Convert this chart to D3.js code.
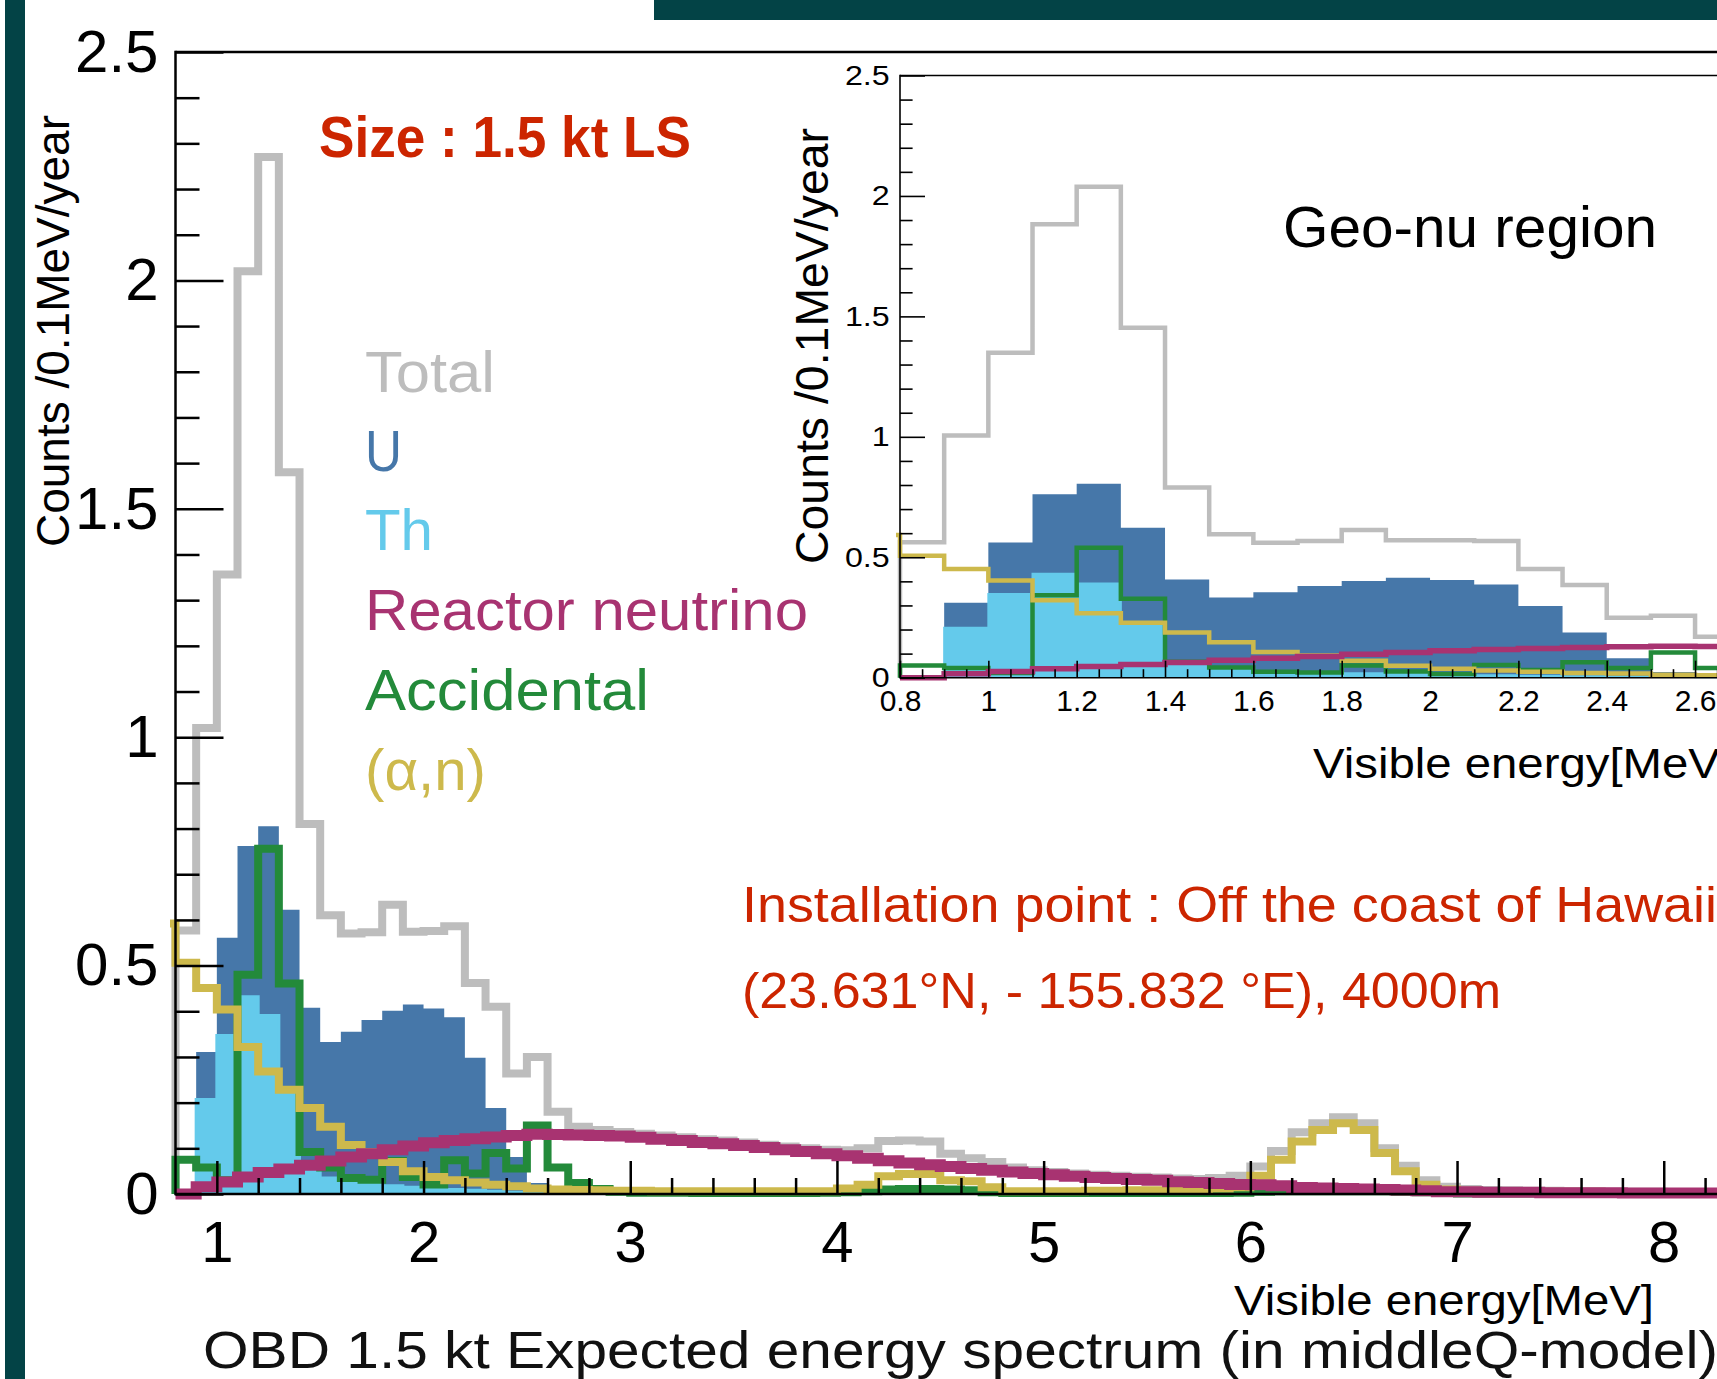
<!DOCTYPE html>
<html>
<head>
<meta charset="utf-8">
<script src="https://cdn.jsdelivr.net/npm/d3@7"></script>
<style>
  body { margin: 0; background: #fff; }
  svg { display: block; font-family: "Liberation Sans", Arial, Helvetica, sans-serif; }
</style>
</head>
<body>
<script>
// every histogram uses 0.1 MeV bins, starting at the energy in its *Start value
const binWidth = 0.1;

const totalStart = 0.8;
const totalMain = [
  0.577, 1.020, 1.356, 2.020, 2.270, 1.580, 0.810, 0.610, 0.570, 0.573,
  0.633, 0.574, 0.576, 0.586, 0.462, 0.410, 0.264, 0.300, 0.180, 0.147,
  0.140, 0.136, 0.132, 0.128, 0.124, 0.120, 0.117, 0.113, 0.108, 0.104,
  0.100, 0.097, 0.096, 0.100, 0.116, 0.117, 0.115, 0.088, 0.078, 0.070,
  0.058, 0.052, 0.048, 0.045, 0.042, 0.040, 0.038, 0.036, 0.034, 0.033,
  0.035, 0.040, 0.060, 0.094, 0.135, 0.155, 0.168, 0.155, 0.100, 0.062,
  0.030, 0.016, 0.011, 0.009, 0.008, 0.007, 0.007, 0.006, 0.006, 0.005,
  0.005, 0.005, 0.004, 0.004, 0.004, 0.004
];
const totalInset = [
  0.562, 1.005, 1.349, 1.882, 2.038, 1.453, 0.790, 0.596, 0.560, 0.567,
  0.613, 0.571, 0.571, 0.567, 0.451, 0.385, 0.249, 0.257, 0.170, 0.145,
  0.138, 0.135
];

const geoStart = 0.8;
const uranium = [
  0, 0.311, 0.561, 0.762, 0.805, 0.622, 0.408, 0.333, 0.355, 0.381,
  0.401, 0.415, 0.406, 0.387, 0.298, 0.188, 0.081, 0.024, 0.008, 0.003
];
const thorium = [
  0, 0.207, 0.347, 0.432, 0.391, 0.220, 0.060, 0.035, 0.028, 0.022,
  0.018, 0.015, 0.012, 0.010, 0.008, 0.006, 0.004, 0.003, 0.002, 0.001
];

const reactorStart = 0.8;
const reactor = [
  0.000, 0.016, 0.026, 0.037, 0.047, 0.055, 0.063, 0.072, 0.081, 0.088,
  0.097, 0.105, 0.112, 0.117, 0.121, 0.125, 0.128, 0.131, 0.130, 0.129,
  0.128, 0.127, 0.124, 0.120, 0.117, 0.113, 0.110, 0.106, 0.102, 0.097,
  0.093, 0.088, 0.084, 0.078, 0.073, 0.068, 0.064, 0.060, 0.056, 0.052,
  0.048, 0.045, 0.042, 0.039, 0.036, 0.034, 0.032, 0.030, 0.027, 0.025,
  0.023, 0.021, 0.020, 0.018, 0.014, 0.013, 0.012, 0.011, 0.010, 0.009,
  0.007, 0.005, 0.005, 0.004, 0.004, 0.004, 0.003, 0.003, 0.003, 0.003,
  0.002, 0.002, 0.002, 0.002, 0.002, 0.002
];

const accStart = 0.8;
const accMain = [
  0.075, 0.058, 0.030, 0.480, 0.756, 0.461, 0.092, 0.058, 0.035, 0.031,
  0.072, 0.037, 0.021, 0.074, 0.045, 0.090, 0.056, 0.150, 0.058, 0.024,
  0.011, 0.005, 0.003, 0.003, 0.003, 0.002, 0.002, 0.002, 0.002, 0.002,
  0.002, 0.003, 0.004, 0.006, 0.010, 0.011, 0.011, 0.010, 0.008, 0.004,
  0.002, 0.002, 0.002, 0.002, 0.002, 0.002, 0.002, 0.002, 0.002, 0.002,
  0.002, 0.003, 0.005, 0.006, 0.006, 0.006, 0.006, 0.006, 0.006, 0.005,
  0.004, 0.002, 0.001, 0.001, 0.001, 0.001, 0.001, 0.001, 0.001, 0.001,
  0.001, 0.001, 0.001, 0.001, 0.001, 0.001
];
const accInset = [
  0.051, 0.040, 0.020, 0.342, 0.540, 0.328, 0.066, 0.042, 0.025, 0.022,
  0.051, 0.026, 0.015, 0.053, 0.032, 0.064, 0.040, 0.105, 0.040, 0.017,
  0.008, 0.004
];

const alphaStart = 0.7;
const alphaN = [
  0.592, 0.506, 0.451, 0.404, 0.322, 0.268, 0.228, 0.188, 0.147, 0.107,
  0.092, 0.070, 0.050, 0.037, 0.030, 0.025, 0.020, 0.017, 0.012, 0.010,
  0.009, 0.008, 0.007, 0.007, 0.006, 0.006, 0.006, 0.006, 0.006, 0.006,
  0.006, 0.006, 0.006, 0.012, 0.020, 0.039, 0.044, 0.044, 0.030, 0.028,
  0.015, 0.006, 0.006, 0.006, 0.006, 0.007, 0.007, 0.008, 0.008, 0.009,
  0.010, 0.012, 0.015, 0.040, 0.075, 0.115, 0.140, 0.155, 0.140, 0.090,
  0.050, 0.020, 0.010, 0.007, 0.006, 0.006, 0.005, 0.005, 0.005, 0.005,
  0.004, 0.004, 0.004, 0.004, 0.004, 0.004, 0.004
];

const legendLabels = ["Total", "U", "Th", "Reactor neutrino", "Accidental", "(α,n)"];
const mainYTicks = [0, 0.5, 1, 1.5, 2, 2.5];
const mainXTicks = [1, 2, 3, 4, 5, 6, 7, 8, 9];
const insetYTicks = [0, 0.5, 1, 1.5, 2, 2.5];
const insetXTicks = [0.8, 1, 1.2, 1.4, 1.6, 1.8, 2, 2.2, 2.4, 2.6, 2.8];

const colors = {
  total: "#bdbdbd",
  u: "#4677a9",
  th: "#64caeb",
  reactor: "#a83371",
  acc: "#238a3a",
  alpha: "#cdb94c",
  red: "#cc2500",
  frame: "#034346"
};
const legendColors = [colors.total, colors.u, colors.th, colors.reactor, colors.acc, colors.alpha];

let width = 1717,
    height = 1379;

let svg = d3.select("body")
    .append("svg")
    .attr("width", width)
    .attr("height", height);

svg.append("rect").attr("width", width).attr("height", height).attr("fill", "#fff");

// slide frame
svg.append("rect").attr("x", 5).attr("y", 0).attr("width", 20).attr("height", height).attr("fill", colors.frame);
svg.append("rect").attr("x", 654).attr("y", 0).attr("width", width - 654).attr("height", 20).attr("fill", colors.frame);

let xMain = d3.scaleLinear().domain([0.8, 10]).range([175.5, 175.5 + 9.2 * 206.7]);
let yMain = d3.scaleLinear().domain([0, 2.5]).range([1194, 52]);

let xIn = d3.scaleLinear().domain([0.8, 3]).range([900, 900 + 2.2 * 441.7]);
let yIn = d3.scaleLinear().domain([0, 2.5]).range([677.7, 75.5]);

function steps(vals, start, x, y) {
  let pts = [[start, 0]];
  vals.forEach((v, i) => {
    pts.push([start + i * binWidth, v], [start + (i + 1) * binWidth, v]);
  });
  pts.push([start + vals.length * binWidth, 0]);
  return d3.line().x(d => x(d[0])).y(d => y(d[1]))(pts);
}

let defs = svg.append("defs");
defs.append("clipPath").attr("id", "clipMain")
  .append("rect").attr("x", 170).attr("y", 40).attr("width", width - 170).attr("height", 1175);
defs.append("clipPath").attr("id", "clipIn")
  .append("rect").attr("x", 896).attr("y", 70).attr("width", width - 896).attr("height", 620);

function drawHists(clip, x, y, total, acc, w) {
  let g = svg.append("g").attr("clip-path", "url(#" + clip + ")")
      .attr("stroke-linejoin", "miter");

  g.append("path").attr("d", steps(total, totalStart, x, y))
    .attr("fill", "none").attr("stroke", colors.total).attr("stroke-width", w.line);
  g.append("path").attr("d", steps(uranium, geoStart, x, y))
    .attr("fill", colors.u);
  g.append("path").attr("d", steps(thorium, geoStart, x, y))
    .attr("fill", colors.th).attr("stroke", colors.th).attr("stroke-width", w.th);
  g.append("path").attr("d", steps(acc, accStart, x, y))
    .attr("fill", "none").attr("stroke", colors.acc).attr("stroke-width", w.line);
  g.append("path").attr("d", steps(alphaN, alphaStart, x, y))
    .attr("fill", "none").attr("stroke", colors.alpha).attr("stroke-width", w.line);
  g.append("path").attr("d", steps(reactor, reactorStart, x, y))
    .attr("fill", "none").attr("stroke", colors.reactor).attr("stroke-width", w.reactor);
}

drawHists("clipMain", xMain, yMain, totalMain, accMain, {line: 8, th: 3, reactor: 11});

// ---- main axes
let fmt = d => String(+d.toFixed(1));

function styleAxis(g, size) {
  g.select(".domain").remove();
  g.selectAll("line").attr("stroke", "#000");
  g.selectAll("text").attr("fill", "#000")
    .attr("font-size", size)
    .attr("font-family", "Liberation Sans, Arial, Helvetica, sans-serif");
}

svg.append("g")
    .attr("transform", "translate(0," + yMain(0) + ")")
    .call(d3.axisBottom(xMain).tickValues(d3.range(5, 46).map(i => i * 0.2).filter(v => Math.abs(v - Math.round(v)) > 0.01))
      .tickSize(-16).tickFormat(""))
    .call(g => styleAxis(g, 10))
    .selectAll("line").attr("stroke-width", 2.5);

svg.append("g")
    .attr("transform", "translate(0," + yMain(0) + ")")
    .call(d3.axisBottom(xMain).tickValues(mainXTicks).tickSize(-33).tickPadding(27).tickFormat(fmt))
    .call(g => styleAxis(g, 58))
    .selectAll("line").attr("stroke-width", 2.5);

svg.append("g")
    .attr("transform", "translate(" + xMain(0.8) + ",0)")
    .call(d3.axisLeft(yMain).tickValues(d3.range(1, 25).map(i => i * 0.1).filter(v => Math.abs(v * 2 - Math.round(v * 2)) > 0.01))
      .tickSize(-24).tickFormat(""))
    .call(g => styleAxis(g, 10))
    .selectAll("line").attr("stroke-width", 2.5);

svg.append("g")
    .attr("transform", "translate(" + xMain(0.8) + ",0)")
    .call(d3.axisLeft(yMain).tickValues(mainYTicks).tickSize(-48).tickPadding(17).tickFormat(fmt))
    .call(g => styleAxis(g, 60))
    .selectAll("line").attr("stroke-width", 2.5);

// frame lines
svg.append("line").attr("x1", xMain(0.8)).attr("x2", width).attr("y1", yMain(0)).attr("y2", yMain(0))
  .attr("stroke", "#000").attr("stroke-width", 2.5);
svg.append("line").attr("x1", xMain(0.8)).attr("x2", width).attr("y1", yMain(2.5)).attr("y2", yMain(2.5))
  .attr("stroke", "#000").attr("stroke-width", 2.5);
svg.append("line").attr("x1", xMain(0.8)).attr("x2", xMain(0.8)).attr("y1", yMain(2.5) - 1.2).attr("y2", yMain(0) + 1.2)
  .attr("stroke", "#000").attr("stroke-width", 2.5);

// ---- inset
drawHists("clipIn", xIn, yIn, totalInset, accInset, {line: 4.5, th: 2, reactor: 5.5});

svg.append("g")
    .attr("transform", "translate(0," + yIn(0) + ")")
    .call(d3.axisBottom(xIn).tickValues(d3.range(17, 60).map(i => i * 0.05).filter(v => Math.abs(v * 5 - Math.round(v * 5)) > 0.01))
      .tickSize(-8.5).tickFormat(""))
    .call(g => styleAxis(g, 10))
    .selectAll("line").attr("stroke-width", 1.6);

svg.append("g")
    .attr("transform", "translate(0," + yIn(0) + ")")
    .call(d3.axisBottom(xIn).tickValues(insetXTicks).tickSize(-17).tickPadding(12).tickFormat(fmt))
    .call(g => styleAxis(g, 30))
    .selectAll("line").attr("stroke-width", 1.6);

svg.append("g")
    .attr("transform", "translate(" + xIn(0.8) + ",0)")
    .call(d3.axisLeft(yIn).tickValues(d3.range(1, 25).map(i => i * 0.1).filter(v => Math.abs(v * 2 - Math.round(v * 2)) > 0.01))
      .tickSize(-12.6).tickFormat(""))
    .call(g => styleAxis(g, 10))
    .selectAll("line").attr("stroke-width", 1.6);

svg.append("g")
    .attr("transform", "translate(" + xIn(0.8) + ",0)")
    .call(d3.axisLeft(yIn).tickValues(insetYTicks).tickSize(-25).tickPadding(9).tickFormat(fmt))
    .call(g => styleAxis(g, 28))
    .call(g => g.selectAll("text").attr("transform", "scale(1.15,1)"))
    .selectAll("line").attr("stroke-width", 1.6);

svg.append("line").attr("x1", xIn(0.8)).attr("x2", width).attr("y1", yIn(0)).attr("y2", yIn(0))
  .attr("stroke", "#000").attr("stroke-width", 1.6);
svg.append("line").attr("x1", xIn(0.8)).attr("x2", width).attr("y1", yIn(2.5)).attr("y2", yIn(2.5))
  .attr("stroke", "#000").attr("stroke-width", 1.6);
svg.append("line").attr("x1", xIn(0.8)).attr("x2", xIn(0.8)).attr("y1", yIn(2.5) - 0.8).attr("y2", yIn(0) + 0.8)
  .attr("stroke", "#000").attr("stroke-width", 1.6);

// ---- texts
function label(x, y, str, size, fill, len, weight) {
  let t = svg.append("text")
    .attr("x", x).attr("y", y)
    .attr("font-size", size)
    .attr("fill", fill)
    .text(str);
  if (weight) t.attr("font-weight", weight);
  if (len) t.attr("textLength", len).attr("lengthAdjust", "spacingAndGlyphs");
  return t;
}

label(319, 157, "Size : 1.5 kt LS", 58, colors.red, 372, "bold");

let legendBase = [392, 471, 550, 630, 710, 790];
let legendLen = [130, 37, 68, 443, 284, 121];
legendLabels.forEach((d, i) => {
  label(365, legendBase[i], d, 57, legendColors[i], legendLen[i]);
});

label(1283, 247, "Geo-nu region", 58, "#000", 374);
label(742, 922, "Installation point : Off the coast of Hawaii", 50, colors.red, 975);
label(742, 1008, "(23.631°N, - 155.832 °E), 4000m", 50, colors.red, 759);

label(1234, 1315, "Visible energy[MeV]", 42, "#000", 420);
label(1313, 778, "Visible energy[MeV]", 42, "#000", 420);
label(203, 1368, "OBD 1.5 kt Expected energy spectrum (in middleQ-model)", 52, "#111", 1515);

svg.append("text")
    .attr("transform", "translate(69,331) rotate(-90)")
    .attr("text-anchor", "middle")
    .attr("font-size", 46)
    .attr("textLength", 432)
    .attr("lengthAdjust", "spacingAndGlyphs")
    .text("Counts /0.1MeV/year");

svg.append("text")
    .attr("transform", "translate(828,346) rotate(-90)")
    .attr("text-anchor", "middle")
    .attr("font-size", 46)
    .attr("textLength", 436)
    .attr("lengthAdjust", "spacingAndGlyphs")
    .text("Counts /0.1MeV/year");
</script>
</body>
</html>
